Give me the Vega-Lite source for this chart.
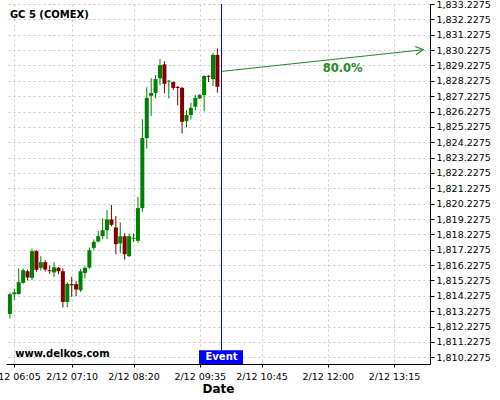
{
  "$schema": "https://vega.github.io/schema/vega-lite/v6.json",
  "width": 424,
  "height": 360,
  "autosize": {"type": "none"},
  "padding": {"left": 6, "top": 4, "right": 70, "bottom": 36},
  "background": "white",
  "config": {"view": {"stroke": null}, "font": "DejaVu Sans"},
  "datasets": {
    "candles": [
      {"t": "2021-02-12T06:00", "o": 1813.05, "h": 1814.44, "l": 1812.75, "c": 1814.33},
      {"t": "2021-02-12T06:05", "o": 1814.33, "h": 1814.70, "l": 1813.95, "c": 1814.45},
      {"t": "2021-02-12T06:10", "o": 1814.35, "h": 1816.01, "l": 1814.30, "c": 1815.12},
      {"t": "2021-02-12T06:15", "o": 1815.07, "h": 1816.01, "l": 1815.01, "c": 1815.90},
      {"t": "2021-02-12T06:20", "o": 1815.83, "h": 1815.94, "l": 1815.23, "c": 1815.42},
      {"t": "2021-02-12T06:25", "o": 1815.40, "h": 1817.31, "l": 1815.25, "c": 1817.14},
      {"t": "2021-02-12T06:30", "o": 1817.14, "h": 1817.20, "l": 1815.79, "c": 1815.92},
      {"t": "2021-02-12T06:35", "o": 1816.05, "h": 1816.81, "l": 1815.88, "c": 1816.42},
      {"t": "2021-02-12T06:40", "o": 1816.42, "h": 1816.55, "l": 1815.81, "c": 1815.94},
      {"t": "2021-02-12T06:45", "o": 1815.90, "h": 1816.20, "l": 1815.66, "c": 1815.83},
      {"t": "2021-02-12T06:50", "o": 1815.75, "h": 1816.42, "l": 1815.44, "c": 1816.09},
      {"t": "2021-02-12T06:55", "o": 1816.05, "h": 1816.11, "l": 1815.64, "c": 1815.83},
      {"t": "2021-02-12T07:00", "o": 1815.83, "h": 1816.01, "l": 1813.47, "c": 1813.83},
      {"t": "2021-02-12T07:05", "o": 1813.83, "h": 1815.12, "l": 1813.49, "c": 1815.01},
      {"t": "2021-02-12T07:10", "o": 1814.99, "h": 1815.46, "l": 1814.16, "c": 1814.92},
      {"t": "2021-02-12T07:15", "o": 1814.99, "h": 1815.18, "l": 1814.20, "c": 1814.64},
      {"t": "2021-02-12T07:20", "o": 1814.59, "h": 1815.98, "l": 1814.48, "c": 1815.83},
      {"t": "2021-02-12T07:25", "o": 1815.72, "h": 1816.16, "l": 1815.36, "c": 1816.05},
      {"t": "2021-02-12T07:30", "o": 1816.07, "h": 1817.38, "l": 1815.98, "c": 1817.20},
      {"t": "2021-02-12T07:35", "o": 1817.35, "h": 1817.90, "l": 1817.20, "c": 1817.74},
      {"t": "2021-02-12T07:40", "o": 1817.77, "h": 1818.46, "l": 1817.70, "c": 1818.11},
      {"t": "2021-02-12T07:45", "o": 1818.11, "h": 1819.27, "l": 1817.92, "c": 1818.50},
      {"t": "2021-02-12T07:50", "o": 1818.50, "h": 1819.81, "l": 1817.92, "c": 1819.20},
      {"t": "2021-02-12T07:55", "o": 1819.20, "h": 1820.15, "l": 1818.76, "c": 1818.85},
      {"t": "2021-02-12T08:00", "o": 1818.68, "h": 1819.43, "l": 1816.94, "c": 1817.59},
      {"t": "2021-02-12T08:05", "o": 1817.64, "h": 1819.01, "l": 1817.01, "c": 1818.11},
      {"t": "2021-02-12T08:10", "o": 1818.11, "h": 1818.31, "l": 1816.59, "c": 1816.94},
      {"t": "2021-02-12T08:15", "o": 1816.81, "h": 1818.29, "l": 1816.77, "c": 1818.11},
      {"t": "2021-02-12T08:20", "o": 1817.94, "h": 1818.29, "l": 1817.74, "c": 1818.01},
      {"t": "2021-02-12T08:25", "o": 1817.81, "h": 1820.67, "l": 1817.68, "c": 1819.94},
      {"t": "2021-02-12T08:30", "o": 1819.94, "h": 1825.72, "l": 1819.70, "c": 1824.50},
      {"t": "2021-02-12T08:35", "o": 1824.50, "h": 1827.80, "l": 1823.80, "c": 1827.12},
      {"t": "2021-02-12T08:40", "o": 1827.25, "h": 1828.39, "l": 1825.95, "c": 1827.43},
      {"t": "2021-02-12T08:45", "o": 1827.43, "h": 1828.60, "l": 1827.08, "c": 1828.34},
      {"t": "2021-02-12T08:50", "o": 1828.39, "h": 1829.64, "l": 1827.95, "c": 1829.25},
      {"t": "2021-02-12T08:55", "o": 1829.30, "h": 1829.51, "l": 1827.41, "c": 1828.03},
      {"t": "2021-02-12T09:00", "o": 1828.17, "h": 1828.28, "l": 1827.08, "c": 1828.23},
      {"t": "2021-02-12T09:05", "o": 1828.15, "h": 1828.19, "l": 1827.62, "c": 1827.77},
      {"t": "2021-02-12T09:10", "o": 1827.83, "h": 1827.89, "l": 1826.65, "c": 1827.76},
      {"t": "2021-02-12T09:15", "o": 1827.77, "h": 1827.84, "l": 1824.80, "c": 1825.56},
      {"t": "2021-02-12T09:20", "o": 1825.60, "h": 1826.32, "l": 1825.19, "c": 1826.00},
      {"t": "2021-02-12T09:25", "o": 1826.00, "h": 1826.80, "l": 1825.71, "c": 1826.47},
      {"t": "2021-02-12T09:30", "o": 1826.54, "h": 1827.30, "l": 1826.32, "c": 1827.12},
      {"t": "2021-02-12T09:35", "o": 1827.08, "h": 1827.36, "l": 1827.04, "c": 1827.30},
      {"t": "2021-02-12T09:40", "o": 1827.30, "h": 1828.60, "l": 1826.25, "c": 1828.54},
      {"t": "2021-02-12T09:45", "o": 1828.55, "h": 1828.60, "l": 1828.15, "c": 1828.49},
      {"t": "2021-02-12T09:50", "o": 1828.34, "h": 1830.03, "l": 1827.88, "c": 1829.91},
      {"t": "2021-02-12T09:55", "o": 1829.91, "h": 1830.34, "l": 1827.46, "c": 1827.84}
    ]
  },
  "layer": [
    {
      "data": {"name": "candles", "format": {"parse": {"t": "date"}}},
      "mark": {"type": "rule", "strokeWidth": 1},
      "encoding": {
        "x": {
          "field": "t", "type": "temporal",
          "scale": {"domain": [
            {"year": 2021, "month": 2, "date": 12, "hours": 5, "minutes": 55, "seconds": 35},
            {"year": 2021, "month": 2, "date": 12, "hours": 13, "minutes": 55, "seconds": 47}
          ], "nice": false, "padding": 0},
          "axis": {
            "orient": "bottom",
            "title": "Date",
            "titleFontSize": 12,
            "titleFontWeight": "bold",
            "titleColor": "black",
            "titlePadding": 3,
            "values": [
              {"year": 2021, "month": 2, "date": 12, "hours": 6, "minutes": 5},
              {"year": 2021, "month": 2, "date": 12, "hours": 7, "minutes": 10},
              {"year": 2021, "month": 2, "date": 12, "hours": 8, "minutes": 20},
              {"year": 2021, "month": 2, "date": 12, "hours": 9, "minutes": 35},
              {"year": 2021, "month": 2, "date": 12, "hours": 10, "minutes": 45},
              {"year": 2021, "month": 2, "date": 12, "hours": 12, "minutes": 0},
              {"year": 2021, "month": 2, "date": 12, "hours": 13, "minutes": 15}
            ],
            "tickCount": 100,
            "format": "%-m/%d %H:%M",
            "labelFontSize": 9.5,
            "labelColor": "black",
            "labelPadding": 4,
            "labelOverlap": false,
            "labelBound": false,
            "labelFlush": false,
            "domainColor": "black",
            "domainWidth": 1,
            "tickColor": "black",
            "tickSize": 3,
            "grid": true,
            "gridColor": "#c8c8c8",
            "gridDash": [2, 3]
          }
        },
        "y": {
          "field": "l", "type": "quantitative",
          "scale": {"domain": [1809.79, 1833.2275], "nice": false, "zero": false, "padding": 0},
          "axis": {
            "orient": "right",
            "title": null,
            "values": [1810.2275, 1811.2275, 1812.2275, 1813.2275, 1814.2275, 1815.2275, 1816.2275, 1817.2275, 1818.2275, 1819.2275, 1820.2275, 1821.2275, 1822.2275, 1823.2275, 1824.2275, 1825.2275, 1826.2275, 1827.2275, 1828.2275, 1829.2275, 1830.2275, 1831.2275, 1832.2275, 1833.2275],
            "tickCount": 100,
            "format": ",.4f",
            "labelFontSize": 9.5,
            "labelColor": "black",
            "labelPadding": 2,
            "labelOverlap": false,
            "labelBound": false,
            "labelFlush": false,
            "domainColor": "black",
            "tickColor": "black",
            "tickSize": 4,
            "grid": true,
            "gridColor": "#c8c8c8",
            "gridDash": [2, 3]
          }
        },
        "y2": {"field": "h"},
        "color": {"condition": {"test": "datum.c >= datum.o", "value": "#008000"}, "value": "#800000"}
      }
    },
    {
      "data": {"name": "candles", "format": {"parse": {"t": "date"}}},
      "mark": {"type": "bar", "width": 4},
      "encoding": {
        "x": {"field": "t", "type": "temporal"},
        "y": {"field": "o", "type": "quantitative"},
        "y2": {"field": "c"},
        "color": {"condition": {"test": "datum.c >= datum.o", "value": "#008000"}, "value": "#800000"}
      }
    },
    {
      "data": {"values": [{"t": "2021-02-12T09:59:40"}], "format": {"parse": {"t": "date"}}},
      "mark": {"type": "rule", "color": "#0000e0", "strokeWidth": 1},
      "encoding": {"x": {"field": "t", "type": "temporal"}}
    },
    {
      "data": {"values": [{"t1": "2021-02-12T09:59:40", "p1": 1828.84, "t2": "2021-02-12T13:48", "p2": 1830.25}], "format": {"parse": {"t1": "date", "t2": "date"}}},
      "mark": {"type": "rule", "color": "#228b22", "strokeWidth": 1},
      "encoding": {
        "x": {"field": "t1", "type": "temporal"},
        "x2": {"field": "t2"},
        "y": {"field": "p1", "type": "quantitative"},
        "y2": {"field": "p2"}
      }
    },
    {
      "data": {"values": [{"t": "2021-02-12T13:48", "p": 1830.25}], "format": {"parse": {"t": "date"}}},
      "mark": {"type": "point", "shape": "M-1,-0.55L0,0L-1,0.55", "size": 225, "filled": false, "color": "#228b22", "strokeWidth": 1.2, "angle": 353.85, "opacity": 1},
      "encoding": {
        "x": {"field": "t", "type": "temporal"},
        "y": {"field": "p", "type": "quantitative"}
      }
    },
    {
      "data": {"values": [{"t": "2021-02-12T12:16:53", "p": 1829.02, "label": "80.0%"}], "format": {"parse": {"t": "date"}}},
      "mark": {"type": "text", "color": "#228b22", "fontSize": 11.5, "fontWeight": "bold", "align": "center", "baseline": "middle"},
      "encoding": {
        "x": {"field": "t", "type": "temporal"},
        "y": {"field": "p", "type": "quantitative"},
        "text": {"field": "label"}
      }
    },
    {
      "data": {"values": [{"t1": "2021-02-12T09:34:11", "t2": "2021-02-12T10:24:00", "p1": 1809.79, "p2": 1810.68}], "format": {"parse": {"t1": "date", "t2": "date"}}},
      "mark": {"type": "rect", "color": "#0000ff"},
      "encoding": {
        "x": {"field": "t1", "type": "temporal"},
        "x2": {"field": "t2"},
        "y": {"field": "p1", "type": "quantitative"},
        "y2": {"field": "p2"}
      }
    },
    {
      "data": {"values": [{"t": "2021-02-12T09:59:40", "p": 1810.2275, "label": "Event"}], "format": {"parse": {"t": "date"}}},
      "mark": {"type": "text", "color": "white", "fontSize": 10, "fontWeight": "bold", "align": "center", "baseline": "middle"},
      "encoding": {
        "x": {"field": "t", "type": "temporal"},
        "y": {"field": "p", "type": "quantitative"},
        "text": {"field": "label"}
      }
    },
    {
      "data": {"values": [
        {"t": "2021-02-12T06:00", "p": 1832.49, "label": "GC 5 (COMEX)"},
        {"t": "2021-02-12T06:06", "p": 1810.47, "label": "www.delkos.com"}
      ], "format": {"parse": {"t": "date"}}},
      "mark": {"type": "text", "color": "black", "fontSize": 10, "fontWeight": "bold", "align": "left", "baseline": "middle"},
      "encoding": {
        "x": {"field": "t", "type": "temporal"},
        "y": {"field": "p", "type": "quantitative"},
        "text": {"field": "label"}
      }
    }
  ]
}
